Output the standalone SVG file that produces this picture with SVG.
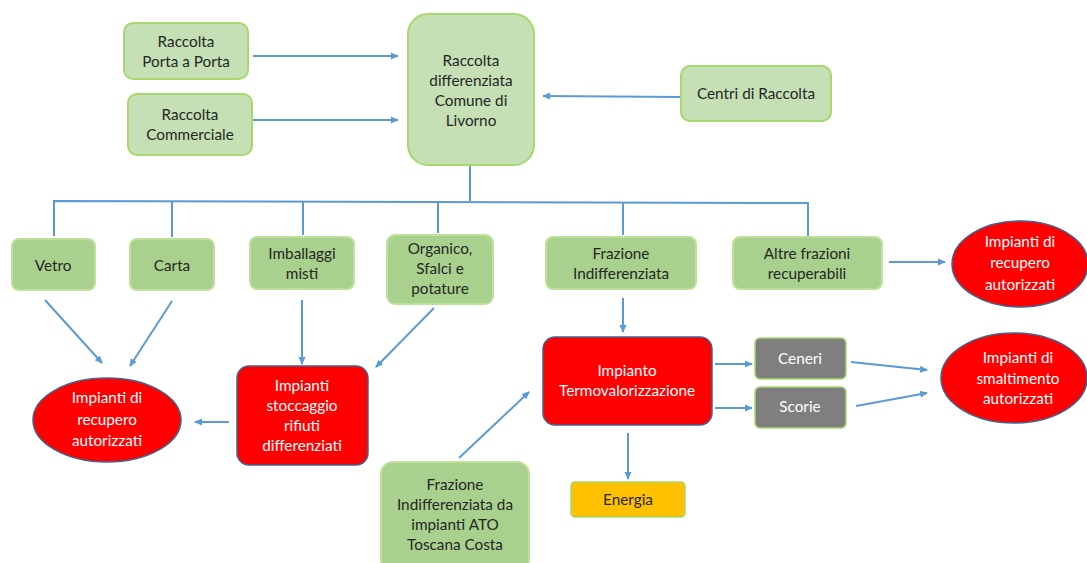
<svg xmlns="http://www.w3.org/2000/svg" width="1087" height="563" viewBox="0 0 1087 563">
<defs>
<marker id="ah" markerWidth="8" markerHeight="8" refX="7" refY="4" orient="auto" markerUnits="userSpaceOnUse">
<path d="M0,0.5 L8,4 L0,7.5 Z" fill="#5b9bd5"/>
</marker>
<style>
.t{font-family:Lato,"Open Sans","Liberation Sans",sans-serif;font-size:15.3px;text-anchor:middle;fill:#262626}
.w{fill:#ffffff}
.lg{fill:#c5e0b4;stroke:#a6d86e;stroke-width:2}
.dg{fill:#a9d18e;stroke:#bfe09a;stroke-width:2}
.rd{fill:#ff0000;stroke:#41618f;stroke-width:1.5}
.gy{fill:#7f7f7f;stroke:#a6d86e;stroke-width:1.5}
.yl{fill:#ffc000;stroke:#a6d86e;stroke-width:1.5}
.c{fill:none;stroke:#5b9bd5;stroke-width:2}
.a{marker-end:url(#ah)}
</style>
</defs>
<rect width="1087" height="563" fill="#ffffff"/>

<g id="connectors">
<line class="c a" x1="253" y1="56" x2="398" y2="56"/>
<line class="c a" x1="253" y1="120" x2="398" y2="120"/>
<line class="c a" x1="681" y1="97" x2="543" y2="96"/>
<polyline class="c" points="470,166 470,201"/>
<polyline class="c" points="54,236 54,201 808,203 808,236"/>
<line class="c" x1="172" y1="201" x2="172" y2="237"/>
<line class="c" x1="303" y1="201" x2="303" y2="235"/>
<line class="c" x1="438" y1="202" x2="438" y2="233"/>
<line class="c" x1="623" y1="202" x2="623" y2="235"/>
<line class="c a" x1="45" y1="300" x2="102" y2="363"/>
<line class="c a" x1="172" y1="301" x2="130" y2="366"/>
<line class="c a" x1="302" y1="300" x2="302" y2="364"/>
<line class="c a" x1="434" y1="308" x2="376" y2="367"/>
<line class="c a" x1="229" y1="422" x2="195" y2="422"/>
<line class="c a" x1="623" y1="298" x2="623" y2="332"/>
<line class="c a" x1="459" y1="458" x2="529" y2="392"/>
<line class="c a" x1="715" y1="364" x2="752" y2="364"/>
<line class="c a" x1="715" y1="408" x2="752" y2="408"/>
<line class="c a" x1="851" y1="362" x2="927" y2="370"/>
<line class="c a" x1="856" y1="406" x2="927" y2="393"/>
<line class="c a" x1="628" y1="433" x2="628" y2="479"/>
<line class="c a" x1="889" y1="262" x2="945" y2="262"/>
</g>

<g id="porta">
<rect class="lg" x="124" y="23" width="124" height="56" rx="9"/>
<text class="t" x="186" y="47">Raccolta</text>
<text class="t" x="186" y="67">Porta a Porta</text>
</g>
<g id="commerciale">
<rect class="lg" x="128" y="94" width="124" height="61" rx="9"/>
<text class="t" x="190" y="120">Raccolta</text>
<text class="t" x="190" y="140">Commerciale</text>
</g>
<g id="livorno">
<rect class="lg" x="408" y="14" width="126" height="151" rx="20"/>
<text class="t" x="471" y="66">Raccolta</text>
<text class="t" x="471" y="86">differenziata</text>
<text class="t" x="471" y="106">Comune di</text>
<text class="t" x="471" y="126">Livorno</text>
</g>
<g id="centri">
<rect class="lg" x="681" y="66" width="150" height="55" rx="9"/>
<text class="t" x="756" y="99">Centri di Raccolta</text>
</g>

<g id="vetro">
<rect class="dg" x="12" y="239" width="83" height="51" rx="7"/>
<text class="t" x="53" y="271">Vetro</text>
</g>
<g id="carta">
<rect class="dg" x="130" y="239" width="84" height="51" rx="7"/>
<text class="t" x="172" y="271">Carta</text>
</g>
<g id="imballaggi">
<rect class="dg" x="250" y="237" width="104" height="52" rx="7"/>
<text class="t" x="302" y="259">Imballaggi</text>
<text class="t" x="302" y="279">misti</text>
</g>
<g id="organico">
<rect class="dg" x="387" y="235" width="106" height="69" rx="8"/>
<text class="t" x="440" y="254">Organico,</text>
<text class="t" x="440" y="274">Sfalci e</text>
<text class="t" x="440" y="294">potature</text>
</g>
<g id="frazione">
<rect class="dg" x="546" y="237" width="150" height="52" rx="7"/>
<text class="t" x="621" y="259">Frazione</text>
<text class="t" x="621" y="279">Indifferenziata</text>
</g>
<g id="altre">
<rect class="dg" x="733" y="237" width="149" height="52" rx="7"/>
<text class="t" x="807" y="259">Altre frazioni</text>
<text class="t" x="807" y="279">recuperabili</text>
</g>

<g id="recupero-dx">
<ellipse class="rd" cx="1020" cy="264" rx="68" ry="43"/>
<text class="t w" x="1020" y="247">Impianti di</text>
<text class="t w" x="1020" y="268">recupero</text>
<text class="t w" x="1020" y="290">autorizzati</text>
</g>
<g id="recupero-sx">
<ellipse class="rd" cx="107" cy="420" rx="74" ry="42"/>
<text class="t w" x="107" y="403">Impianti di</text>
<text class="t w" x="107" y="425">recupero</text>
<text class="t w" x="107" y="446">autorizzati</text>
</g>
<g id="stoccaggio">
<rect class="rd" x="237" y="366" width="131" height="99" rx="12"/>
<text class="t w" x="302" y="391">Impianti</text>
<text class="t w" x="302" y="411">stoccaggio</text>
<text class="t w" x="302" y="431">rifiuti</text>
<text class="t w" x="302" y="451">differenziati</text>
</g>
<g id="termo">
<rect class="rd" x="543" y="337" width="169" height="88" rx="12"/>
<text class="t w" x="627" y="376">Impianto</text>
<text class="t w" x="627" y="396">Termovalorizzazione</text>
</g>
<g id="ceneri">
<rect class="gy" x="755" y="338" width="91" height="41" rx="5"/>
<text class="t w" x="800" y="364">Ceneri</text>
</g>
<g id="scorie">
<rect class="gy" x="755" y="387" width="91" height="41" rx="5"/>
<text class="t w" x="800" y="412">Scorie</text>
</g>
<g id="smaltimento">
<ellipse class="rd" cx="1014" cy="378" rx="73" ry="45"/>
<text class="t w" x="1018" y="363">Impianti di</text>
<text class="t w" x="1018" y="384">smaltimento</text>
<text class="t w" x="1018" y="404">autorizzati</text>
</g>
<g id="energia">
<rect class="yl" x="571" y="482" width="114" height="35" rx="4"/>
<text class="t" x="628" y="505">Energia</text>
</g>
<g id="ato">
<rect class="dg" x="381" y="462" width="148" height="110" rx="12"/>
<text class="t" x="455" y="490">Frazione</text>
<text class="t" x="455" y="510">Indifferenziata da</text>
<text class="t" x="455" y="530">impianti ATO</text>
<text class="t" x="455" y="550">Toscana Costa</text>
</g>
</svg>
